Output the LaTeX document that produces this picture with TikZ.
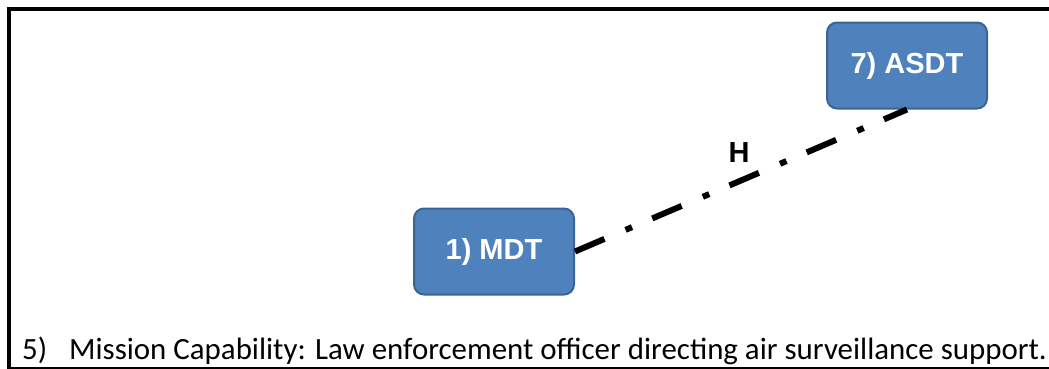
\documentclass[tikz,border=0pt]{standalone}
\usepackage{fontspec}
\setmainfont{Liberation Sans}
\newfontfamily\captionfont{Carlito}
\definecolor{boxfill}{HTML}{4F81BD}
\definecolor{boxline}{HTML}{3A6496}
\begin{document}
\begin{tikzpicture}[x=1pt,y=-1pt,
  unitbox/.style={draw=boxline, line width=2pt, fill=boxfill, rounded corners=10pt,
    minimum width=160pt, minimum height=86pt, inner sep=0pt,
    text=white, font=\fontsize{29}{31}\selectfont\bfseries},
  linkline/.style={line width=6pt, line cap=butt,
    dash pattern=on 32pt off 23pt on 7pt off 22pt},
  framestroke/.style={line width=4.5pt}]
  \useasboundingbox (0,0) rectangle (1049,368);
  % page frame
  \draw[framestroke] (1060,369.5) -- (9,369.5) -- (9,9) -- (1060,9);
  % units
  \node[unitbox] (mdt) at (494,251.5) {1) MDT};
  \node[unitbox] (asdt) at (907,65.5) {7) ASDT};
  % link H
  \draw[linkline] (mdt.east) -- (asdt.south);
  \node[font=\fontsize{29}{31}\selectfont\bfseries] (hlabel) at (739,153) {H};
  % caption
  \node[anchor=base west, inner sep=0pt, font=\captionfont\fontsize{30.9}{34}\selectfont] (cap) at (22,359)
    {5)\hspace{22pt}Mission Capability: Law enforcement officer directing air surveillance support.};
\end{tikzpicture}
\end{document}
